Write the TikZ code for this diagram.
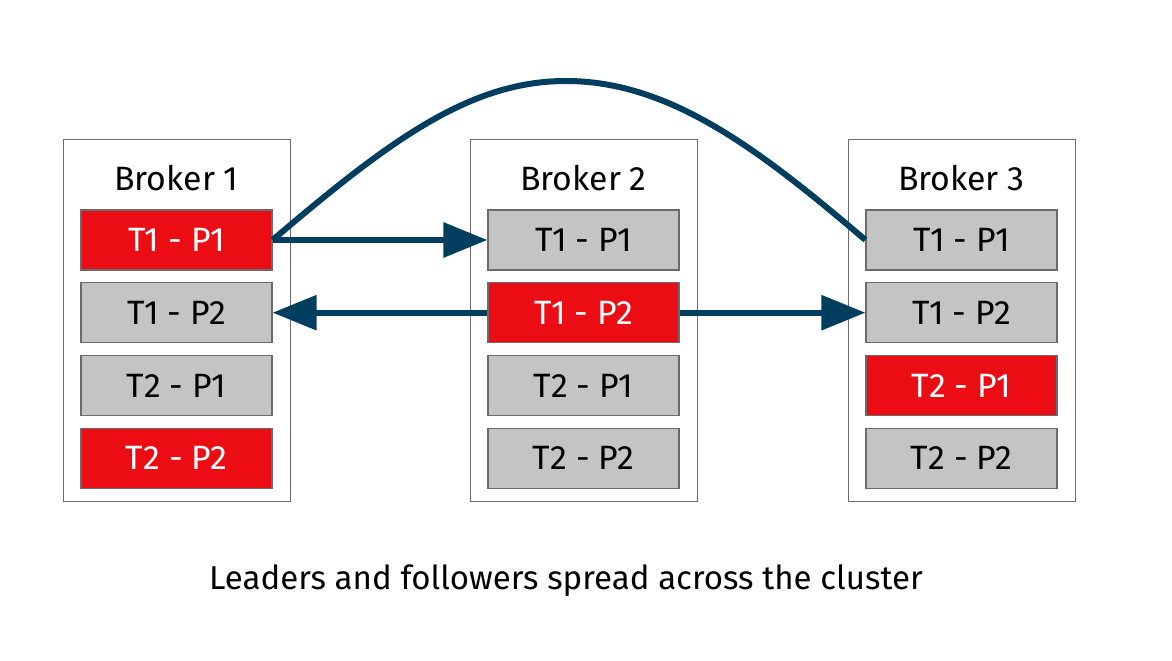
\documentclass[tikz,border=0pt]{standalone}
\usepackage{fontspec}
\setmainfont{Fira Sans}
\usetikzlibrary{arrows.meta}
\definecolor{leaderred}{HTML}{EC0C14}
\definecolor{followergray}{HTML}{C4C4C4}
\definecolor{edgegray}{HTML}{6B6B6B}
\definecolor{linkblue}{HTML}{003E5F}
\tikzset{
	broker/.style={draw=edgegray, line width=0.8pt, minimum width=5.675cm, minimum height=9.05cm, inner sep=0pt},
	cell/.style={draw=edgegray, line width=0.8pt, minimum width=4.775cm, minimum height=1.5cm, inner sep=0pt, font=\fontsize{24}{28}\selectfont},
	leader/.style={cell, fill=leaderred, text=white},
	follower/.style={cell, fill=followergray, text=black},
	link/.style={draw=linkblue, line width=0.15cm, -{Triangle[length=1.1cm, width=0.85cm]}}
}
\begin{document}
\begin{tikzpicture}[x=0.025cm, y=-0.025cm]
			\useasboundingbox (0, 0) rectangle (1172, 661);
			% brokers and their partitions
			\foreach \b/\x/\kinds in {1/63/{leader,follower,follower,leader}, 2/470/{follower,leader,follower,follower}, 3/848/{follower,follower,leader,follower}} {
				\node[broker, anchor=north west] (broker\b) at (\x, 139) {};
				\node[font=\fontsize{24}{28}\selectfont] (label\b) at (\x + 113.5, 178) {Broker \b};
				\foreach \k [count=\i] in \kinds {
					\pgfmathtruncatemacro{\t}{(\i + 1) / 2}
					\pgfmathtruncatemacro{\p}{mod(\i - 1, 2) + 1}
					\node[\k] (b\b-\i) at (\x + 113.5, 240 + 72.7 * \i - 72.7) {T\t\ - P\p};
				}
			}
			% replication
			\coordinate (peak) at (566, 81);
			\draw[link] (b1-1.east) -- (b2-1.west);
			\draw[link] (b2-2.west) -- (b1-2.east);
			\draw[link] (b2-2.east) -- (b3-2.west);
			\draw[draw=linkblue, line width=0.15cm] (b1-1.east) .. controls (390, 140) and (470, 81) .. (peak) .. controls (670, 81) and (760, 150) .. (b3-1.west);
			\node[font=\fontsize{23.5}{28}\selectfont] (caption) at (566, 581) {Leaders and followers spread across the cluster};
		\end{tikzpicture}
\end{document}
